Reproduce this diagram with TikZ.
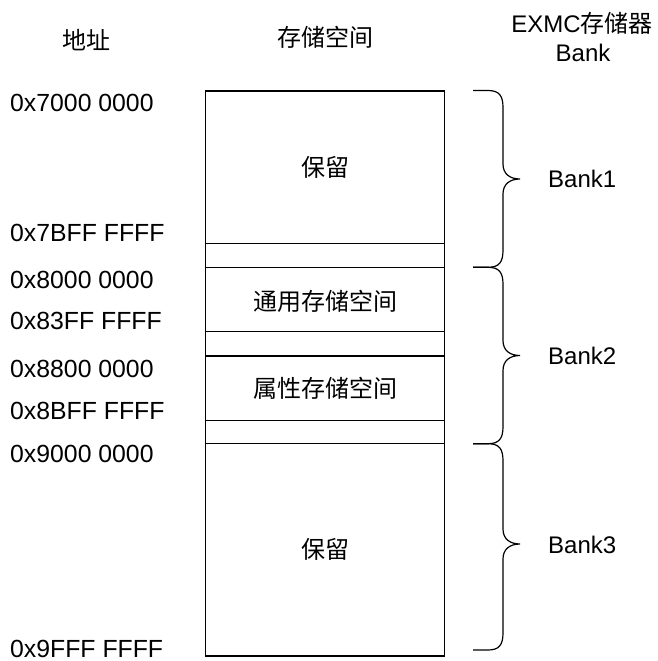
\documentclass[tikz,border=0pt]{standalone}
\usepackage{fontspec}
\setmainfont{Liberation Sans}
\newfontfamily\cjk{Noto Sans CJK SC}
\begin{document}
\begin{tikzpicture}[x=1pt,y=-1pt,
  lbl/.style={inner sep=0pt,font=\fontsize{24}{28}\selectfont},
  addr/.style={inner sep=0pt,font=\fontsize{24.8}{28}\selectfont,anchor=base west},
  ctr/.style={lbl,anchor=base},
  bankl/.style={lbl,anchor=base west},
  frame/.style={draw=black,line width=1.3pt},
  bracestyle/.style={draw=black,line width=1.2pt}]
\useasboundingbox (0,0) rectangle (657,661);
% headers
\node[ctr] (h1) at (86,49) {\cjk 地址};
\node[ctr] (h2) at (325,46.5) {\cjk 存储空间};
\node[ctr] (h3) at (582,33) {EXMC{\cjk 存储器}};
\node[ctr] (h4) at (583,62) {Bank};
% memory box
\draw[frame] (205.7,91) rectangle (444.7,656);
\foreach \yy in {243.7,267.3,331.7,356,420.3,443.7}
  \draw[frame] (205.7,\yy) -- (444.7,\yy);
\node[ctr] (r1) at (325,176.5) {\cjk 保留};
\node[ctr] (r2) at (325,310) {\cjk 通用存储空间};
\node[ctr] (r3) at (325,397.5) {\cjk 属性存储空间};
\node[ctr] (r4) at (325,558.5) {\cjk 保留};
% addresses
\node[addr] (a1) at (10,111) {0x7000 0000};
\node[addr] (a2) at (10,241.5) {0x7BFF FFFF};
\node[addr] (a3) at (10,288) {0x8000 0000};
\node[addr] (a4) at (10,329) {0x83FF FFFF};
\node[addr] (a5) at (10,377) {0x8800 0000};
\node[addr] (a6) at (10,419) {0x8BFF FFFF};
\node[addr] (a7) at (10,462.5) {0x9000 0000};
\node[addr] (a8) at (10,657) {0x9FFF FFFF};
% braces
\newcommand\mybrace[3]{%
  \draw[bracestyle] (473,#1) -- (488,#1)
    .. controls (499,#1) and (503,{#1+5}) .. (503,{#1+17})
    -- (503,{#2-15})
    .. controls (503,{#2-5}) and (510,#2) .. (520,#2)
    .. controls (510,#2) and (503,{#2+5}) .. (503,{#2+15})
    -- (503,{#3-17})
    .. controls (503,{#3-5}) and (499,#3) .. (488,#3)
    -- (473,#3);}
\mybrace{90.5}{179}{267.3}
\mybrace{267.3}{355.5}{443.7}
\mybrace{443.7}{544}{650}
\node[bankl] (b1) at (548,187) {Bank1};
\node[bankl] (b2) at (548,364) {Bank2};
\node[bankl] (b3) at (548,553) {Bank3};
\end{tikzpicture}
\end{document}
